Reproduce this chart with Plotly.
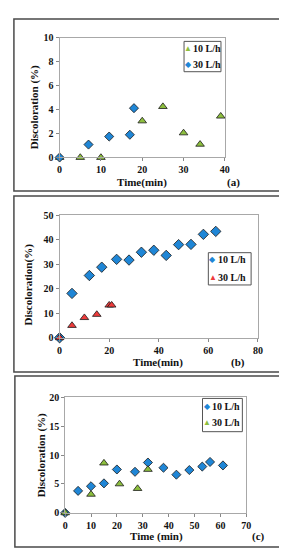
import plotly.graph_objects as go

W, H = 287, 550

# ---------------- data ----------------
a_10_x = [0, 5, 10, 20, 25, 30, 34, 39]
a_10_y = [0, 0, 0, 3.05, 4.25, 2.05, 1.1, 3.45]
a_30_x = [0, 7, 12, 17, 18]
a_30_y = [0, 1.08, 1.75, 1.9, 4.12]

b_10_x = [0, 5, 12, 17, 23, 28, 33, 38, 43, 48, 53, 58, 63]
b_10_y = [0, 18.1, 25.4, 28.8, 32.0, 31.7, 34.9, 35.7, 33.6, 38.0, 38.1, 42.2, 43.4]
b_30_x = [0, 5, 10, 15, 20, 21]
b_30_y = [0, 5.0, 8.2, 9.5, 13.3, 13.3]

c_10_x = [0, 5, 10, 15, 20, 27, 32, 38, 43, 48, 53, 56, 61]
c_10_y = [0, 3.8, 4.6, 5.1, 7.5, 7.1, 8.7, 7.8, 6.6, 7.4, 8.0, 8.8, 8.2]
c_30_x = [0, 10, 15, 21, 28, 32]
c_30_y = [0, 3.2, 8.6, 5.0, 4.2, 7.5]

a_xticks = [0, 10, 20, 30, 40]
a_yticks = [0, 2, 4, 6, 8, 10]
b_xticks = [0, 20, 40, 60, 80]
b_yticks = [0, 10, 20, 30, 40, 50]
c_xticks = [0, 10, 20, 30, 40, 50, 60, 70]
c_yticks = [0, 5, 10, 15, 20]

legend_labels = ["10 L/h", "30 L/h"]

# ---------------- styles ----------------
BLUE = "#1f86d6"
GREEN = "#8dbf3e"
RED = "#ee3b3b"
FONT = "Liberation Serif"


def px(x):
    return x / W


def py(y):
    return 1 - y / H


def mk(symbol, color, size):
    return dict(symbol=symbol, color=color, size=size,
                line=dict(color="#1a1a1a", width=0.8))


fig = go.Figure()

# panel a
fig.add_trace(go.Scatter(x=a_10_x, y=a_10_y, mode="markers", name=legend_labels[0],
                         marker=mk("triangle-up", GREEN, 7.5), xaxis="x", yaxis="y"))
fig.add_trace(go.Scatter(x=a_30_x, y=a_30_y, mode="markers", name=legend_labels[1],
                         marker=mk("diamond", BLUE, 7), xaxis="x", yaxis="y"))
# panel b
fig.add_trace(go.Scatter(x=b_10_x, y=b_10_y, mode="markers", name=legend_labels[0],
                         marker=mk("diamond", BLUE, 8), xaxis="x2", yaxis="y2"))
fig.add_trace(go.Scatter(x=b_30_x, y=b_30_y, mode="markers", name=legend_labels[1],
                         marker=mk("triangle-up", RED, 7.5), xaxis="x2", yaxis="y2"))
# panel c
fig.add_trace(go.Scatter(x=c_10_x, y=c_10_y, mode="markers", name=legend_labels[0],
                         marker=mk("diamond", BLUE, 7), xaxis="x3", yaxis="y3"))
fig.add_trace(go.Scatter(x=c_30_x, y=c_30_y, mode="markers", name=legend_labels[1],
                         marker=mk("triangle-up", GREEN, 7.5), xaxis="x3", yaxis="y3"))
fig.update_traces(cliponaxis=False)

tickfont = dict(family=FONT, size=10, color="#111", weight="bold")


def ax(dom, anchor, rng, ticks):
    return dict(domain=dom, anchor=anchor, range=rng, tickvals=ticks,
                showgrid=False, zeroline=False, showline=True, mirror=True,
                linecolor="#a8a8a8", linewidth=1, ticks="outside", ticklen=3,
                tickcolor="#888", tickfont=tickfont, fixedrange=True)


layout = dict(
    width=W, height=H, margin=dict(l=0, r=0, t=0, b=0),
    paper_bgcolor="white", plot_bgcolor="white", showlegend=False,
    xaxis=ax([px(50), px(220)], "y", [0, 40], a_xticks),
    yaxis=ax([py(146.7), py(24.3)], "x", [0, 10], a_yticks),
    xaxis2=ax([px(50), px(254)], "y2", [0, 80], b_xticks),
    yaxis2=ax([py(331), py(205.7)], "x2", [0, 50], b_yticks),
    xaxis3=ax([px(55.7), px(242)], "y3", [0, 70], c_xticks),
    yaxis3=ax([py(510), py(391.7)], "x3", [0, 20], c_yticks),
)
fig.update_layout(**layout)

shapes = []
annotations = []

# panel borders
for (x0, y0, x1, y1) in [(3, 5, 279, 181), (3, 186, 280, 366), (4, 370, 279, 545)]:
    shapes.append(dict(type="rect", xref="paper", yref="paper",
                       x0=px(x0), x1=px(x1), y0=py(y1), y1=py(y0),
                       line=dict(color="#4a4a4a", width=1.5)))


def text(x, y, s, size=11, angle=0, xanchor="center", color="#111"):
    annotations.append(dict(xref="paper", yref="paper", x=px(x), y=py(y), text=s,
                            showarrow=False, textangle=angle, xanchor=xanchor,
                            yanchor="middle",
                            font=dict(family=FONT, size=size, color=color)))


# axis titles
text(135, 172.5, "<b>Time(min)</b>")
text(229, 172.5, "<b>(a)</b>")
text(25, 95, "<b>Discoloration (%)</b>", angle=-90)

text(151, 356, "<b>Time(min)</b>")
text(233, 356, "<b>(b)</b>")
text(18, 276, "<b>Discoloration(%)</b>", angle=-90)

text(150, 534, "<b>Time (min)</b>")
text(255, 534, "<b>(c)</b>")
text(31, 451, "<b>Discoloration (%)</b>", angle=-90)


# manual legends
def legend(box, rows):
    x0, y0, x1, y1 = box
    shapes.append(dict(type="rect", xref="paper", yref="paper",
                       x0=px(x0), x1=px(x1), y0=py(y1), y1=py(y0),
                       line=dict(color="#555", width=1), fillcolor="white"))
    for (sx, sy, sym, col, label) in rows:
        text(sx, sy, sym, size=8, color=col)
        text(sx + 3, sy, "<b>" + label + "</b>", size=10, xanchor="left")


legend((178, 28, 216, 59), [(182.5, 35, "▲", GREEN, legend_labels[0]),
                            (182.5, 51.5, "◆", BLUE, legend_labels[1])])
legend((203, 244, 247, 277), [(207.5, 251, "◆", BLUE, legend_labels[0]),
                              (207.5, 269.5, "▲", RED, legend_labels[1])])
legend((197, 393, 238, 427), [(202, 401.5, "◆", BLUE, legend_labels[0]),
                              (202, 418, "▲", GREEN, legend_labels[1])])

fig.update_layout(shapes=shapes, annotations=annotations)
fig.write_html("out.html")
